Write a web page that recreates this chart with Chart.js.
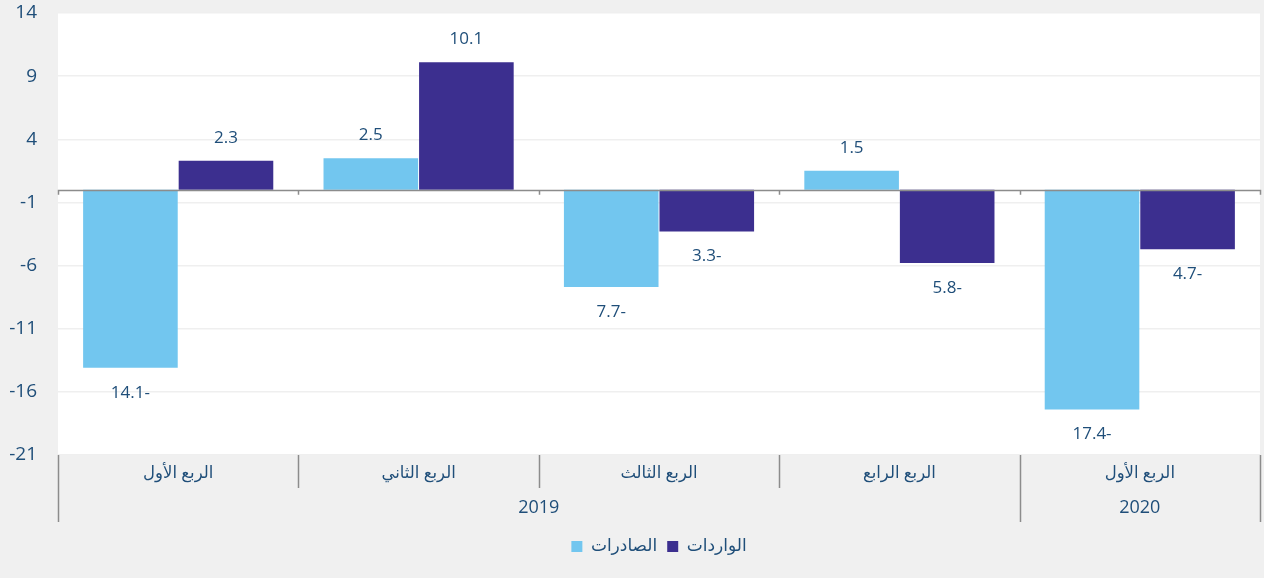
<!DOCTYPE html>
<html>
<head>
<meta charset="utf-8">
<script src="https://cdn.jsdelivr.net/npm/chart.js@4/dist/chart.umd.min.js"></script>
<style>
    html, body { margin: 0; padding: 0; background: #f0f0f0; }
    #wrap { width: 1264px; height: 578px; position: relative; }
</style>
</head>
<body>
<div id="wrap"><canvas id="tradeChart"></canvas></div>
<script>
const quarters = ['الربع الأول', 'الربع الثاني', 'الربع الثالث', 'الربع الرابع', 'الربع الأول'];
const years = ['2019', '2019', '2019', '2019', '2020'];
const exportsData = [-14.1, 2.5, -7.7, 1.5, -17.4];
const importsData = [2.3, 10.1, -3.3, -5.8, -4.7];
const yTicks = { min: -21, max: 14, step: 5 };

const textColor = '#1f4e79';
const fontFamily = '"Open Sans", "DejaVu Sans", sans-serif';

// RTL style numbers: minus sign goes after the value
const fmt = v => Math.abs(v).toFixed(1) + (v < 0 ? '-' : '');

const backgroundPlugin = {
    id: 'bg',
    beforeDraw(chart) {
        const { ctx, chartArea: a } = chart;
        ctx.save();
        ctx.fillStyle = '#f0f0f0';
        ctx.fillRect(0, 0, chart.width, chart.height);
        ctx.fillStyle = '#ffffff';
        ctx.fillRect(a.left, a.top, a.right - a.left, a.bottom - a.top);
        ctx.restore();
    }
};

// zero line, category separators and the year row under the quarter labels
const axisPlugin = {
    id: 'groupAxis',
    afterDatasetsDraw(chart) {
        const { ctx, chartArea: a, scales: { x, y } } = chart;
        const n = quarters.length;
        const half = (x.getPixelForValue(1) - x.getPixelForValue(0)) / 2;
        const edge = i => i === 0 ? a.left : (i === n ? a.right : x.getPixelForValue(i) - half);
        const y0 = y.getPixelForValue(0);
        const row1 = a.bottom + 33;
        const row2 = a.bottom + 67;

        ctx.save();
        ctx.strokeStyle = '#8c8c8c';
        ctx.lineWidth = 1.5;
        ctx.beginPath();
        ctx.moveTo(a.left, Math.round(y0) + 0.5);
        ctx.lineTo(a.right, Math.round(y0) + 0.5);
        for (let i = 0; i <= n; i++) {
            const px = Math.round(edge(i)) + 0.5;
            ctx.moveTo(px, y0);
            ctx.lineTo(px, y0 + 5);
        }
        ctx.stroke();

        ctx.beginPath();
        for (let i = 0; i <= n; i++) {
            const px = Math.round(edge(i)) + 0.5;
            const groupEdge = i === 0 || i === n || years[i] !== years[i - 1];
            ctx.moveTo(px, a.bottom);
            ctx.lineTo(px, groupEdge ? row2 : row1);
        }
        ctx.stroke();

        ctx.fillStyle = textColor;
        ctx.font = '18px ' + fontFamily;
        ctx.textAlign = 'center';
        ctx.textBaseline = 'middle';
        let start = 0;
        for (let i = 1; i <= n; i++) {
            if (i === n || years[i] !== years[start]) {
                const cx = (edge(start) + edge(i)) / 2;
                ctx.fillText(years[start], cx, (row1 + row2) / 2 + 3);
                start = i;
            }
        }

        // value labels
        ctx.font = '17px ' + fontFamily;
        chart.data.datasets.forEach((ds, di) => {
            chart.getDatasetMeta(di).data.forEach((bar, i) => {
                const v = ds.data[i];
                const ly = v >= 0 ? bar.y - 23 : bar.y + 25;
                ctx.fillText(fmt(v), bar.x, ly);
            });
        });
        ctx.restore();
    }
};

new Chart(document.getElementById('tradeChart'), {
    type: 'bar',
    data: {
        labels: quarters,
        datasets: [{
            label: 'الصادرات',
            data: exportsData,
            backgroundColor: '#72c6ef',
            borderWidth: 0,
            categoryPercentage: 0.795,
            barPercentage: 0.99
        }, {
            label: 'الواردات',
            data: importsData,
            backgroundColor: '#3c2f8f',
            borderWidth: 0,
            categoryPercentage: 0.795,
            barPercentage: 0.99
        }]
    },
    options: {
        responsive: true,
        maintainAspectRatio: false,
        animation: false,
        layout: { padding: { top: 13, right: 4, bottom: 13, left: 0 } },
        scales: {
            x: {
                grid: { display: false, drawTicks: false },
                border: { display: false },
                ticks: {
                    color: textColor,
                    font: { size: 16.5, family: fontFamily },
                    padding: 8,
                    maxRotation: 0
                },
                afterFit: s => { s.height = 73; }
            },
            y: {
                min: yTicks.min,
                max: yTicks.max,
                grid: { color: '#efefef', drawTicks: false, lineWidth: 1.5 },
                border: { display: false },
                ticks: {
                    stepSize: yTicks.step,
                    color: textColor,
                    font: { size: 19, family: fontFamily },
                    padding: 21
                },
                afterFit: s => {
                    s.width = 58;
                    s.paddingTop = 0;
                    s.paddingBottom = 0;
                }
            }
        },
        plugins: {
            legend: {
                position: 'bottom',
                fullSize: false,
                labels: {
                    color: textColor,
                    font: { size: 17, family: fontFamily },
                    boxWidth: 11,
                    boxHeight: 11,
                    padding: 10
                }
            },
            tooltip: { enabled: false }
        }
    },
    plugins: [backgroundPlugin, axisPlugin]
});
</script>
</body>
</html>
